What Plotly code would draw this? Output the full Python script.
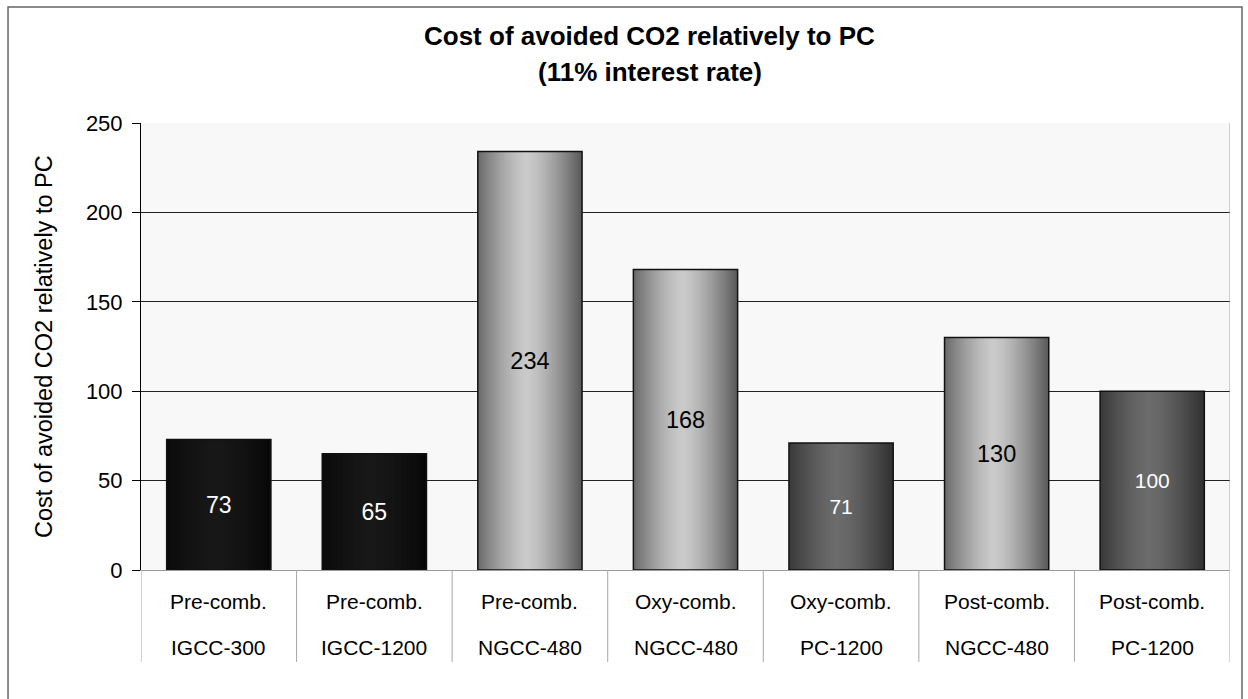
import plotly.graph_objects as go

# Avoided-CO2 cost per capture route (11% interest rate)
process = ["Pre-comb.", "Pre-comb.", "Pre-comb.", "Oxy-comb.", "Oxy-comb.", "Post-comb.", "Post-comb."]
plant = ["IGCC-300", "IGCC-1200", "NGCC-480", "NGCC-480", "PC-1200", "NGCC-480", "PC-1200"]
avoided_cost = [73, 65, 234, 168, 71, 130, 100]
y_ticks = [0, 50, 100, 150, 200, 250]

FONT = "Liberation Sans, Arial, sans-serif"

# grey shading per plant family: edge grey, centre grey, label colour, label size
SHADES = {
    "IGCC": (8, 24, "white", 23),
    "NGCC": (88, 202, "black", 23.5),
    "PC": (48, 108, "white", 21),
}

BAR_W = 0.67
N_SLICES = 48

xs = list(range(len(avoided_cost)))
shade = [SHADES[p.split("-")[0]] for p in plant]

fig = go.Figure()

# cylinder-like horizontal shading, built from thin overlapping bar strips
for k in range(N_SLICES):
    t = (k + 0.5) / N_SLICES
    d = min(abs(t - 0.47) / 0.53, 1.0)
    f = 1.0 - d ** 1.4
    cols = []
    for edge, centre, _, _ in shade:
        g = int(round(edge + (centre - edge) * f))
        cols.append(f"rgb({g},{g},{g})")
    offset = -BAR_W / 2 + k * BAR_W / N_SLICES
    width = min(BAR_W / N_SLICES * 1.8, BAR_W / 2 - offset)
    fig.add_trace(go.Bar(
        x=xs, y=avoided_cost, offset=offset, width=width,
        marker=dict(color=cols, line=dict(width=0)),
        hoverinfo="skip", showlegend=False,
    ))

# bar outlines and value labels
fig.add_trace(go.Bar(
    x=xs, y=avoided_cost, offset=-BAR_W / 2, width=BAR_W,
    marker=dict(color="rgba(0,0,0,0)", line=dict(color="#111111", width=1.5)),
    text=[str(v) for v in avoided_cost],
    textposition="inside", insidetextanchor="middle", textangle=0,
    constraintext="none",
    textfont=dict(family=FONT, size=[s[3] for s in shade], color=[s[2] for s in shade]),
    showlegend=False,
))

# outer chart frame
fig.add_shape(type="rect", xref="paper", yref="paper",
              x0=-0.1221, x1=1.0110, y0=-0.30, y1=1.2595,
              line=dict(color="#666666", width=1.5), fillcolor="rgba(0,0,0,0)")

# category dividers below the axis and right edge of the plot area
for i in range(len(avoided_cost) + 1):
    fig.add_shape(type="line", xref="x", yref="paper",
                  x0=i - 0.5, x1=i - 0.5, y0=0, y1=-0.2058,
                  line=dict(color="#a6a6a6", width=1))
fig.add_shape(type="line", xref="x", yref="paper",
              x0=len(avoided_cost) - 0.5, x1=len(avoided_cost) - 0.5, y0=0, y1=1,
              line=dict(color="#a6a6a6", width=1))

# two-row category labels
for i, (p1, p2) in enumerate(zip(process, plant)):
    fig.add_annotation(x=i, y=-0.0694, xref="x", yref="paper", text=p1,
                       showarrow=False, xanchor="center", yanchor="middle",
                       font=dict(family=FONT, size=21, color="black"))
    fig.add_annotation(x=i, y=-0.1723, xref="x", yref="paper", text=p2,
                       showarrow=False, xanchor="center", yanchor="middle",
                       font=dict(family=FONT, size=21, color="black"))

# title (two lines) and y-axis title
fig.add_annotation(x=0.4674, y=1.1955, xref="paper", yref="paper",
                   text="<b>Cost of avoided CO2 relatively to PC</b>",
                   showarrow=False, xanchor="center", yanchor="middle",
                   font=dict(family=FONT, size=26, color="black"))
fig.add_annotation(x=0.4674, y=1.1141, xref="paper", yref="paper",
                   text="<b>(11% interest rate)</b>",
                   showarrow=False, xanchor="center", yanchor="middle",
                   font=dict(family=FONT, size=26, color="black"))
fig.add_annotation(x=-0.0895, y=0.5, xref="paper", yref="paper",
                   text="Cost of avoided CO2 relatively to PC",
                   textangle=-90, showarrow=False,
                   xanchor="center", yanchor="middle",
                   font=dict(family=FONT, size=23.5, color="black"))

fig.update_layout(
    width=1248, height=699,
    margin=dict(l=141, r=18, t=123, b=129, pad=0),
    paper_bgcolor="white", plot_bgcolor="#f8f8f8",
    barmode="overlay", showlegend=False,
    font=dict(family=FONT, color="black"),
    xaxis=dict(range=[-0.5, len(avoided_cost) - 0.5], showticklabels=False,
               showgrid=False, zeroline=False, showline=True,
               linecolor="#9a9a9a", linewidth=1, ticks=""),
    yaxis=dict(range=[0, 250], tickvals=y_ticks, showgrid=True,
               gridcolor="#222222", gridwidth=1,
               zeroline=True, zerolinecolor="#9a9a9a", zerolinewidth=1,
               showline=True, linecolor="#000000", linewidth=1,
               ticks="outside", ticklen=8, tickcolor="#000000",
               ticklabelstandoff=5,
               tickfont=dict(family=FONT, size=22, color="black")),
)

fig.write_html("out.html")
